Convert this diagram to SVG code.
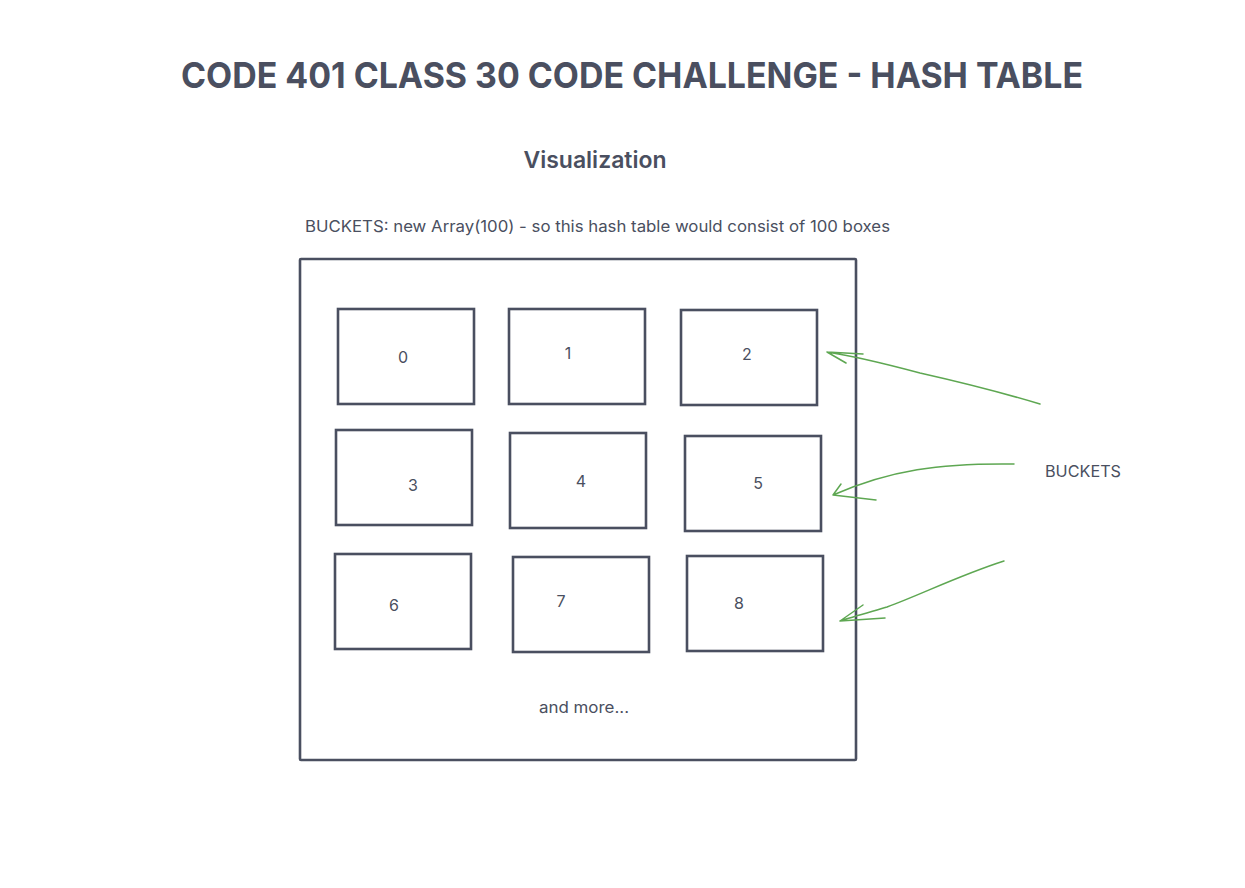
<svg xmlns="http://www.w3.org/2000/svg" width="1245" height="888" viewBox="0 0 1245 888">
<style>
.t{font-family:Inter,"Noto Sans","Liberation Sans",sans-serif;fill:#4a4f60}
.title{font-size:36px;font-weight:700}
.sub{font-size:23px;font-weight:600}
.body{font-size:16px}
.num{font-size:16px;text-anchor:middle}
.box{fill:none;stroke:#4a4f60;stroke-width:2.6}
.arr{fill:none;stroke:#5ea752;stroke-width:1.5;stroke-linecap:round;stroke-linejoin:round}
</style>
<rect width="1245" height="888" fill="#ffffff"/>
<g id="title"><text class="t title" x="632" y="88" text-anchor="middle" textLength="902" lengthAdjust="spacingAndGlyphs">CODE 401 CLASS 30 CODE CHALLENGE - HASH TABLE</text></g>
<g id="subtitle"><text class="t sub" x="595" y="168" text-anchor="middle" textLength="143" lengthAdjust="spacingAndGlyphs">Visualization</text></g>
<g id="caption"><text class="t body" x="305" y="232" textLength="585" lengthAdjust="spacingAndGlyphs">BUCKETS: new Array(100) - so this hash table would consist of 100 boxes</text></g>
<g id="table">
<rect class="box" x="300" y="259" width="556" height="501" rx="1"/>
<text class="t body" x="584" y="713" text-anchor="middle" textLength="90" lengthAdjust="spacingAndGlyphs">and more...</text>
</g>
<g id="bucket0"><rect class="box" x="338" y="309" width="136" height="95"/><text class="t num" x="403" y="363">0</text></g>
<g id="bucket1"><rect class="box" x="509" y="309" width="136" height="95"/><text class="t num" x="568" y="359">1</text></g>
<g id="bucket2"><rect class="box" x="681" y="310" width="136" height="95"/><text class="t num" x="747" y="360">2</text></g>
<g id="bucket3"><rect class="box" x="336" y="430" width="136" height="95"/><text class="t num" x="413" y="491">3</text></g>
<g id="bucket4"><rect class="box" x="510" y="433" width="136" height="95"/><text class="t num" x="581" y="487">4</text></g>
<g id="bucket5"><rect class="box" x="685" y="436" width="136" height="95"/><text class="t num" x="758" y="489">5</text></g>
<g id="bucket6"><rect class="box" x="335" y="554" width="136" height="95"/><text class="t num" x="394" y="611">6</text></g>
<g id="bucket7"><rect class="box" x="513" y="557" width="136" height="95"/><text class="t num" x="561" y="607">7</text></g>
<g id="bucket8"><rect class="box" x="687" y="556" width="136" height="95"/><text class="t num" x="739" y="609">8</text></g>
<g id="buckets-label"><text class="t body" x="1045" y="477" textLength="76" lengthAdjust="spacingAndGlyphs">BUCKETS</text></g>
<g id="connectors">
<path class="arr" d="M1040,404 C1000,392 960,382 920,373 C890,365 860,357 827,352 M827,352 L863,354 M827,352 L846,363"/>
<path class="arr" d="M1014,464 C940,463 890,470 833,495 M833,495 L841,484 M833,495 L876,500"/>
<path class="arr" d="M1004,561 C960,575 920,595 887,607 C870,612 852,617 840,621 M840,621 L863,605 M840,621 L885,618"/>
</g>
</svg>
